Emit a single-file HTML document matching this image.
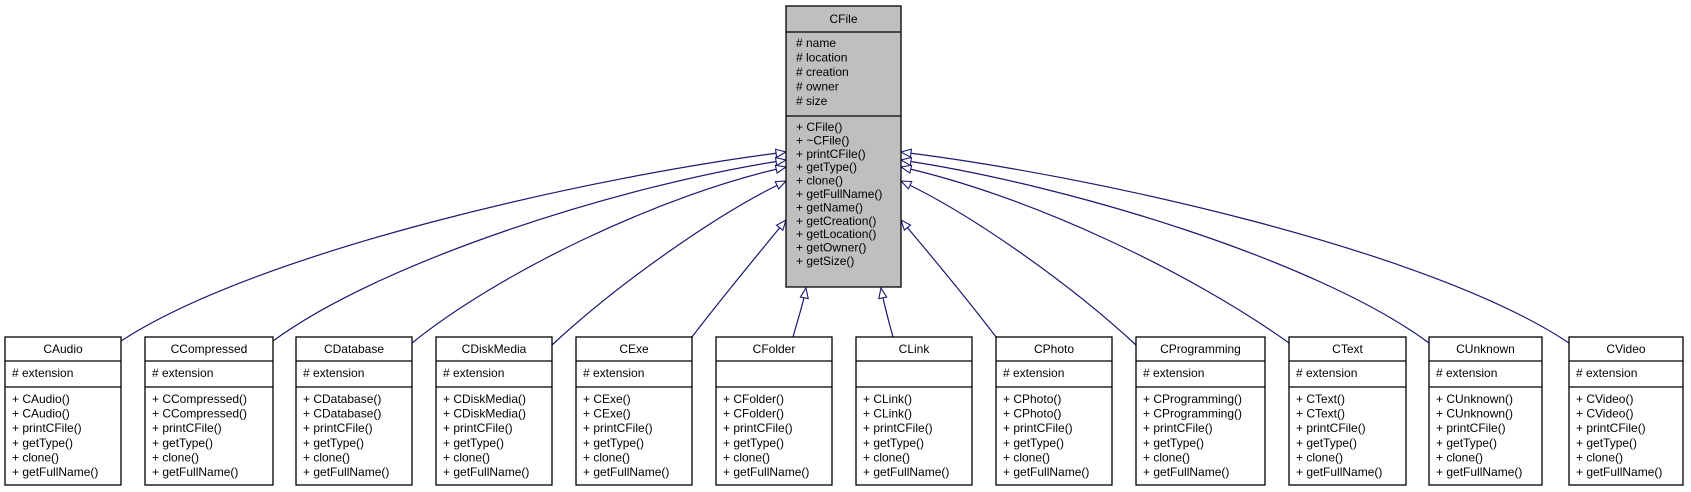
<!DOCTYPE html>
<html><head><meta charset="utf-8"><style>
html,body{margin:0;padding:0;background:#fff;}
svg{display:block;}
text{font-family:"Liberation Sans",Helvetica,Arial,sans-serif;font-size:12px;fill:#000;}
.b{fill:#fff;stroke:#000;stroke-width:1.3;}
.e{fill:none;stroke:#191970;stroke-width:1.2;}
</style></head><body>
<svg width="1691" height="492" viewBox="0 0 1691 492" xmlns="http://www.w3.org/2000/svg">
<defs>
<marker id="a" markerUnits="userSpaceOnUse" markerWidth="14" markerHeight="12" refX="11" refY="5" orient="auto">
<path d="M1,1 L11,5 L1,9 Z" fill="#fff" stroke="#191970" stroke-width="1.1"/>
</marker>
</defs>
<!-- edges -->
<path class="e" marker-end="url(#a)" d="M121,341 C260,250 600,175 786,152"/>
<path class="e" marker-end="url(#a)" d="M273,341 C380,262 620,185 786,160"/>
<path class="e" marker-end="url(#a)" d="M412,343 C500,272 660,195 786,167"/>
<path class="e" marker-end="url(#a)" d="M552,345 C620,282 720,212 786,181"/>
<path class="e" marker-end="url(#a)" d="M692,337 C720,300 760,252 786,220"/>
<path class="e" marker-end="url(#a)" d="M793,337 C797,322 803,305 806,288"/>
<path class="e" marker-end="url(#a)" d="M893,337 C889,322 884,305 881,288"/>
<path class="e" marker-end="url(#a)" d="M996,337 C968,300 928,252 901,220"/>
<path class="e" marker-end="url(#a)" d="M1136,345 C1068,282 968,212 901,181"/>
<path class="e" marker-end="url(#a)" d="M1289,343 C1190,272 1028,195 901,167"/>
<path class="e" marker-end="url(#a)" d="M1429,343 C1320,262 1070,185 901,160"/>
<path class="e" marker-end="url(#a)" d="M1569,343 C1430,250 1090,175 901,152"/>

<!-- CFile -->
<rect x="786" y="6" width="115" height="281" fill="#bfbfbf" stroke="#000" stroke-width="1.3"/>
<line x1="786" y1="32" x2="901" y2="32" stroke="#000" stroke-width="1.3"/>
<line x1="786" y1="116" x2="901" y2="116" stroke="#000" stroke-width="1.3"/>
<text x="843.5" y="23" text-anchor="middle">CFile</text>
<text x="796" y="47"># name</text>
<text x="796" y="61.5"># location</text>
<text x="796" y="76"># creation</text>
<text x="796" y="90.5"># owner</text>
<text x="796" y="105"># size</text>
<text x="796" y="131">+ CFile()</text>
<text x="796" y="144.4">+ ~CFile()</text>
<text x="796" y="157.8">+ printCFile()</text>
<text x="796" y="171.2">+ getType()</text>
<text x="796" y="184.6">+ clone()</text>
<text x="796" y="198">+ getFullName()</text>
<text x="796" y="211.4">+ getName()</text>
<text x="796" y="224.8">+ getCreation()</text>
<text x="796" y="238.2">+ getLocation()</text>
<text x="796" y="251.6">+ getOwner()</text>
<text x="796" y="265">+ getSize()</text>

<!-- CAudio -->
<g><rect class="b" x="5" y="337" width="116" height="148"/><line x1="5" y1="361" x2="121" y2="361" stroke="#000" stroke-width="1.3"/><line x1="5" y1="387" x2="121" y2="387" stroke="#000" stroke-width="1.3"/>
<text x="63" y="353" text-anchor="middle">CAudio</text><text x="12" y="377"># extension</text>
<text x="12" y="403">+ CAudio()</text><text x="12" y="417.6">+ CAudio()</text><text x="12" y="432.2">+ printCFile()</text><text x="12" y="446.8">+ getType()</text><text x="12" y="461.4">+ clone()</text><text x="12" y="476">+ getFullName()</text></g>

<g><rect class="b" x="145" y="337" width="128" height="148"/><line x1="145" y1="361" x2="273" y2="361" stroke="#000" stroke-width="1.3"/><line x1="145" y1="387" x2="273" y2="387" stroke="#000" stroke-width="1.3"/>
<text x="209" y="353" text-anchor="middle">CCompressed</text><text x="152" y="377"># extension</text>
<text x="152" y="403">+ CCompressed()</text><text x="152" y="417.6">+ CCompressed()</text><text x="152" y="432.2">+ printCFile()</text><text x="152" y="446.8">+ getType()</text><text x="152" y="461.4">+ clone()</text><text x="152" y="476">+ getFullName()</text></g>

<g><rect class="b" x="296" y="337" width="116" height="148"/><line x1="296" y1="361" x2="412" y2="361" stroke="#000" stroke-width="1.3"/><line x1="296" y1="387" x2="412" y2="387" stroke="#000" stroke-width="1.3"/>
<text x="354" y="353" text-anchor="middle">CDatabase</text><text x="303" y="377"># extension</text>
<text x="303" y="403">+ CDatabase()</text><text x="303" y="417.6">+ CDatabase()</text><text x="303" y="432.2">+ printCFile()</text><text x="303" y="446.8">+ getType()</text><text x="303" y="461.4">+ clone()</text><text x="303" y="476">+ getFullName()</text></g>

<g><rect class="b" x="436" y="337" width="116" height="148"/><line x1="436" y1="361" x2="552" y2="361" stroke="#000" stroke-width="1.3"/><line x1="436" y1="387" x2="552" y2="387" stroke="#000" stroke-width="1.3"/>
<text x="494" y="353" text-anchor="middle">CDiskMedia</text><text x="443" y="377"># extension</text>
<text x="443" y="403">+ CDiskMedia()</text><text x="443" y="417.6">+ CDiskMedia()</text><text x="443" y="432.2">+ printCFile()</text><text x="443" y="446.8">+ getType()</text><text x="443" y="461.4">+ clone()</text><text x="443" y="476">+ getFullName()</text></g>

<g><rect class="b" x="576" y="337" width="116" height="148"/><line x1="576" y1="361" x2="692" y2="361" stroke="#000" stroke-width="1.3"/><line x1="576" y1="387" x2="692" y2="387" stroke="#000" stroke-width="1.3"/>
<text x="634" y="353" text-anchor="middle">CExe</text><text x="583" y="377"># extension</text>
<text x="583" y="403">+ CExe()</text><text x="583" y="417.6">+ CExe()</text><text x="583" y="432.2">+ printCFile()</text><text x="583" y="446.8">+ getType()</text><text x="583" y="461.4">+ clone()</text><text x="583" y="476">+ getFullName()</text></g>

<g><rect class="b" x="716" y="337" width="116" height="148"/><line x1="716" y1="361" x2="832" y2="361" stroke="#000" stroke-width="1.3"/><line x1="716" y1="387" x2="832" y2="387" stroke="#000" stroke-width="1.3"/>
<text x="774" y="353" text-anchor="middle">CFolder</text>
<text x="723" y="403">+ CFolder()</text><text x="723" y="417.6">+ CFolder()</text><text x="723" y="432.2">+ printCFile()</text><text x="723" y="446.8">+ getType()</text><text x="723" y="461.4">+ clone()</text><text x="723" y="476">+ getFullName()</text></g>

<g><rect class="b" x="856" y="337" width="116" height="148"/><line x1="856" y1="361" x2="972" y2="361" stroke="#000" stroke-width="1.3"/><line x1="856" y1="387" x2="972" y2="387" stroke="#000" stroke-width="1.3"/>
<text x="914" y="353" text-anchor="middle">CLink</text>
<text x="863" y="403">+ CLink()</text><text x="863" y="417.6">+ CLink()</text><text x="863" y="432.2">+ printCFile()</text><text x="863" y="446.8">+ getType()</text><text x="863" y="461.4">+ clone()</text><text x="863" y="476">+ getFullName()</text></g>

<g><rect class="b" x="996" y="337" width="116" height="148"/><line x1="996" y1="361" x2="1112" y2="361" stroke="#000" stroke-width="1.3"/><line x1="996" y1="387" x2="1112" y2="387" stroke="#000" stroke-width="1.3"/>
<text x="1054" y="353" text-anchor="middle">CPhoto</text><text x="1003" y="377"># extension</text>
<text x="1003" y="403">+ CPhoto()</text><text x="1003" y="417.6">+ CPhoto()</text><text x="1003" y="432.2">+ printCFile()</text><text x="1003" y="446.8">+ getType()</text><text x="1003" y="461.4">+ clone()</text><text x="1003" y="476">+ getFullName()</text></g>

<g><rect class="b" x="1136" y="337" width="129" height="148"/><line x1="1136" y1="361" x2="1265" y2="361" stroke="#000" stroke-width="1.3"/><line x1="1136" y1="387" x2="1265" y2="387" stroke="#000" stroke-width="1.3"/>
<text x="1200.5" y="353" text-anchor="middle">CProgramming</text><text x="1143" y="377"># extension</text>
<text x="1143" y="403">+ CProgramming()</text><text x="1143" y="417.6">+ CProgramming()</text><text x="1143" y="432.2">+ printCFile()</text><text x="1143" y="446.8">+ getType()</text><text x="1143" y="461.4">+ clone()</text><text x="1143" y="476">+ getFullName()</text></g>

<g><rect class="b" x="1289" y="337" width="117" height="148"/><line x1="1289" y1="361" x2="1406" y2="361" stroke="#000" stroke-width="1.3"/><line x1="1289" y1="387" x2="1406" y2="387" stroke="#000" stroke-width="1.3"/>
<text x="1347.5" y="353" text-anchor="middle">CText</text><text x="1296" y="377"># extension</text>
<text x="1296" y="403">+ CText()</text><text x="1296" y="417.6">+ CText()</text><text x="1296" y="432.2">+ printCFile()</text><text x="1296" y="446.8">+ getType()</text><text x="1296" y="461.4">+ clone()</text><text x="1296" y="476">+ getFullName()</text></g>

<g><rect class="b" x="1429" y="337" width="113" height="148"/><line x1="1429" y1="361" x2="1542" y2="361" stroke="#000" stroke-width="1.3"/><line x1="1429" y1="387" x2="1542" y2="387" stroke="#000" stroke-width="1.3"/>
<text x="1485.5" y="353" text-anchor="middle">CUnknown</text><text x="1436" y="377"># extension</text>
<text x="1436" y="403">+ CUnknown()</text><text x="1436" y="417.6">+ CUnknown()</text><text x="1436" y="432.2">+ printCFile()</text><text x="1436" y="446.8">+ getType()</text><text x="1436" y="461.4">+ clone()</text><text x="1436" y="476">+ getFullName()</text></g>

<g><rect class="b" x="1569" y="337" width="114" height="148"/><line x1="1569" y1="361" x2="1683" y2="361" stroke="#000" stroke-width="1.3"/><line x1="1569" y1="387" x2="1683" y2="387" stroke="#000" stroke-width="1.3"/>
<text x="1626" y="353" text-anchor="middle">CVideo</text><text x="1576" y="377"># extension</text>
<text x="1576" y="403">+ CVideo()</text><text x="1576" y="417.6">+ CVideo()</text><text x="1576" y="432.2">+ printCFile()</text><text x="1576" y="446.8">+ getType()</text><text x="1576" y="461.4">+ clone()</text><text x="1576" y="476">+ getFullName()</text></g>
</svg>
</body></html>
